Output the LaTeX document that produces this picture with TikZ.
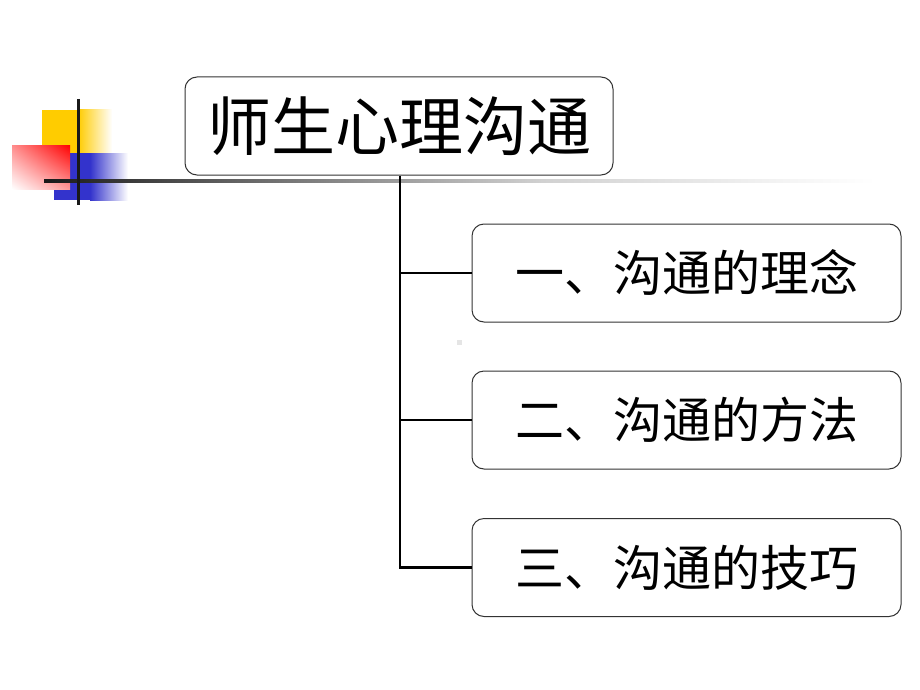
\documentclass[tikz,border=0pt]{standalone}
\usepackage{fontspec}
\usetikzlibrary{shadings}
\newfontfamily\cjk{Noto Sans CJK SC}
\definecolor{decoyellow}{HTML}{FFCC00}
\definecolor{decoblue}{HTML}{3333CC}
\definecolor{decored}{HTML}{FF0000}
\definecolor{boxline}{HTML}{333333}
\pgfdeclarehorizontalshading{hlineshade}{100bp}{color(0bp)=(black!90); color(25bp)=(black!90); color(37bp)=(black!60); color(55bp)=(black!18); color(70bp)=(black!4); color(75bp)=(white); color(100bp)=(white)}
\tikzset{
  topbox/.style={draw=boxline, line width=1pt, rounded corners=12pt, fill=white,
    minimum width=428pt, minimum height=98pt, inner sep=0pt, font=\cjk\fontsize{64}{70}\selectfont},
  subbox/.style={draw=boxline, line width=1pt, rounded corners=12pt, fill=white,
    minimum width=429pt, minimum height=98pt, inner sep=0pt, font=\cjk\fontsize{49}{55}\selectfont},
  conn/.style={line width=2.5pt, black},
}
\begin{document}
\begin{tikzpicture}[x=1pt,y=-1pt]
\useasboundingbox (0,0) rectangle (920,690);
% decoration
\fill[decoyellow] (42,110) rectangle (78,153);
\shade[left color=decoyellow, right color=white] (78,110) rectangle (112,153);
\fill[decoblue] (54,153) rectangle (90,200);
\shade[left color=decoblue, right color=white] (90,153) rectangle (128,200);
\shade[upper left=decored!45, upper right=decored, lower left=white, lower right=decored!40] (12,145) rectangle (70,189);
\shade[shading=hlineshade] (44,179.5) rectangle (875,182.5);
\draw[line width=3pt, black!90] (78,99) -- (78,205);
% nodes
\node[topbox] (t) at (399,126) {师生心理沟通};
\node[subbox] (a) at (686.5,273) {一、沟通的理念};
\node[subbox] (b) at (686.5,420) {二、沟通的方法};
\node[subbox] (c) at (686.5,567.5) {三、沟通的技巧};
\coordinate (j3) at (400,567.5);
\draw[conn] (t.south) ++(1,0) coordinate (top) -- (j3) -- (c.west);
\draw[conn] (a.west) -- (a.west -| top);
\draw[conn] (b.west) -- (b.west -| top);
\fill[gray!20] (457,340) rectangle (462,345);
\end{tikzpicture}
\end{document}
